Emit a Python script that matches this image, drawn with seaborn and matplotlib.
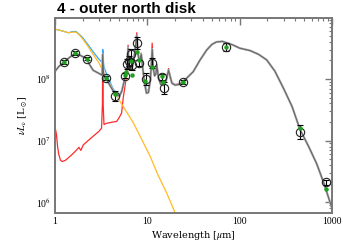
import numpy as np
import pandas as pd
import matplotlib
matplotlib.use("Agg")
import matplotlib.pyplot as plt
import seaborn as sns
from matplotlib.ticker import LogLocator, FixedLocator, NullFormatter

# ---------------- data ----------------
title = "4 - outer north disk"

# total model (grey)
tot_wl = [1.0, 1.1, 1.26, 1.5, 1.66, 1.9, 2.2, 2.4, 2.6, 3.0, 3.25, 3.3, 3.36, 3.6, 4.0, 4.5,
          5.0, 5.3, 5.6, 5.9, 6.1, 6.2, 6.35, 6.6, 6.9, 7.2, 7.5, 7.7, 7.9, 8.1, 8.3, 8.6,
          8.9, 9.3, 9.8, 10.3, 10.8, 11.1, 11.3, 11.6, 12.0, 12.4, 12.7, 13.2, 14.0, 15.0,
          16.0, 16.6, 17.0, 17.6, 18.5, 20.0, 22.0, 24.0, 27.0, 31.5, 37.0, 44.0, 50.0,
          56.0, 65.0, 75.0, 85.0, 100.0, 130.0, 160.0, 196.0, 240.0, 298.0, 370.0, 450.0,
          560.0, 684.0, 820.0, 1000.0]
tot_lg = [8.12, 8.20, 8.28, 8.37, 8.42, 8.38, 8.33, 8.22, 8.14, 8.09, 8.06, 8.40, 8.06, 8.00, 7.88, 7.75,
          7.72, 7.80, 7.95, 8.08, 8.25, 8.50, 8.17, 8.16, 8.20, 8.35, 8.55, 8.70, 8.45, 8.32, 8.30, 8.40,
          8.20, 7.95, 7.77, 7.78, 7.98, 8.25, 8.48, 8.18, 8.05, 8.08, 8.22, 8.02, 7.91, 7.90,
          7.97, 8.08, 8.14, 8.05, 7.93, 7.90, 7.91, 7.95, 8.02, 8.12, 8.30, 8.47, 8.56,
          8.60, 8.61, 8.58, 8.55, 8.50, 8.46, 8.40, 8.31, 8.13, 7.85, 7.55, 7.18,
          6.90, 6.62, 6.30, 5.90]

# stellar component (yellow)
star_wl = [1.0, 1.2, 1.4, 1.55, 1.7, 1.85, 2.0, 2.3, 2.6, 3.0, 3.5, 4.0, 4.47, 5.5, 7.05,
           8.5, 10.7, 13.0, 16.2, 20.0]
star_lg = [8.81, 8.78, 8.75, 8.76, 8.76, 8.71, 8.65, 8.52, 8.40, 8.26, 8.06, 7.90, 7.77, 7.55, 7.29,
           7.05, 6.75, 6.45, 6.15, 5.83]

# dust component (red)
dust_wl = [1.01, 1.04, 1.07, 1.1, 1.15, 1.2, 1.3, 1.5, 1.7, 1.82, 1.91, 2.03, 2.5, 3.0, 3.2,
           3.27, 3.3, 3.33, 3.4, 3.63, 4.2, 4.66, 5.0, 5.28, 5.5, 5.74, 5.9, 6.1, 6.2, 6.35,
           6.6, 6.9, 7.2, 7.5, 7.7, 7.9, 8.1, 8.3, 8.6, 8.9, 9.3, 9.8, 10.3, 10.8, 11.1, 11.3,
           11.6, 12.0, 12.4, 12.7, 13.2, 14.0, 15.0, 16.0, 16.6, 17.0, 17.6, 18.5, 20.0, 22.0,
           24.0, 27.0, 31.5, 37.0, 44.0, 50.0, 56.0, 65.0, 75.0, 85.0, 100.0, 130.0, 160.0,
           196.0, 240.0, 298.0, 370.0, 450.0, 560.0, 684.0, 820.0, 1000.0]
dust_lg = [7.20, 7.10, 6.90, 6.78, 6.68, 6.66, 6.68, 6.76, 6.84, 6.89, 6.84, 6.93, 7.05, 7.15, 7.20,
           7.60, 8.45, 7.60, 7.26, 7.28, 7.30, 7.31, 7.38, 7.45, 7.70, 7.88, 8.00, 8.18, 8.55, 8.14,
           8.14, 8.19, 8.35, 8.58, 8.75, 8.47, 8.32, 8.30, 8.42, 8.20, 7.94, 7.77, 7.79, 8.00, 8.30,
           8.58, 8.20, 8.06, 8.09, 8.24, 8.03, 7.92, 7.91, 7.98, 8.10, 8.17, 8.07, 7.94, 7.91,
           7.92, 7.95, 8.02, 8.12, 8.30, 8.47, 8.56, 8.60, 8.61, 8.58, 8.55, 8.50, 8.46, 8.40,
           8.31, 8.13, 7.85, 7.55, 7.18, 6.90, 6.62, 6.30, 5.90]

# alternative model (blue)
blue_wl = [1.0, 1.2, 1.4, 1.55, 1.7, 1.85, 2.0, 2.3, 2.6, 3.0, 3.2, 3.27, 3.3, 3.33, 3.4, 3.7,
           4.28, 4.9, 5.3, 5.6, 5.9, 6.1, 6.2, 6.35, 6.6, 6.9, 7.2, 7.5, 7.7, 7.9, 8.1, 8.3, 8.6,
           8.9, 9.3, 9.8, 10.3, 10.8, 11.1, 11.3, 11.6, 12.0, 12.4, 12.7, 13.2, 14.0, 15.0, 16.0,
           16.6, 17.0, 17.6, 18.5, 20.0]
blue_lg = [8.81, 8.78, 8.75, 8.77, 8.77, 8.72, 8.67, 8.55, 8.44, 8.32, 8.28, 8.35, 8.48, 8.30, 8.20, 8.04,
           7.84, 7.72, 7.82, 7.97, 8.10, 8.27, 8.52, 8.18, 8.17, 8.21, 8.36, 8.56, 8.71, 8.46, 8.33, 8.31, 8.41,
           8.21, 7.98, 7.82, 7.82, 8.00, 8.26, 8.49, 8.19, 8.06, 8.09, 8.23, 8.03, 7.92, 7.91, 7.98,
           8.09, 8.15, 8.06, 7.94, 7.91]

# observations (open circles)
obs_wl = [1.26, 1.66, 2.2, 3.6, 4.5, 5.8, 6.0, 6.4, 6.6, 6.9, 7.7, 8.1, 9.6, 11.3, 14.5, 15.2,
          24.2, 72.0, 450.0, 850.0]
obs_lg = [8.28, 8.42, 8.33, 8.02, 7.73, 8.05, 8.24, 8.29, 8.41, 8.22, 8.58, 8.26, 8.00, 8.26, 8.03, 7.85,
          7.95, 8.52, 7.14, 6.32]
obs_err = [0.03, 0.03, 0.03, 0.03, 0.08, 0.04, 0.08, 0.08, 0.08, 0.08, 0.10, 0.05, 0.09, 0.08, 0.05, 0.10,
           0.03, 0.07, 0.12, 0.04]

# model photometry (green dots)
mod_wl = [1.26, 1.66, 2.2, 3.6, 4.5, 5.8, 5.9, 6.65, 6.9, 7.67, 8.06, 9.5, 11.3, 14.5, 14.8, 24.2,
          72.0, 450.0, 850.0]
mod_lg = [8.28, 8.42, 8.33, 8.02, 7.76, 8.06, 8.12, 8.285, 8.06, 8.44, 8.31, 7.96, 8.20, 8.04, 7.95, 7.95,
          8.52, 7.20, 6.22]

# ---------------- figure ----------------
sns.set_theme(style="white")
plt.rcParams["font.family"] = ["Liberation Serif", "DejaVu Serif"]
plt.rcParams["mathtext.fontset"] = "stix"
plt.rcParams["text.color"] = "black"
plt.rcParams["axes.labelcolor"] = "black"

fig = plt.figure(figsize=(3.43, 2.45), dpi=100)
ax = fig.add_axes([0.160, 0.131, 0.808, 0.796])

def df(wl, lg):
    return pd.DataFrame({"wl": wl, "L": 10 ** np.array(lg, dtype=float)})

sns.lineplot(data=df(dust_wl, dust_lg), x="wl", y="L", ax=ax, color="#ff2a2a", lw=0.9, sort=False)
sns.lineplot(data=df(blue_wl, blue_lg), x="wl", y="L", ax=ax, color="#33aaff", lw=0.9, sort=False)
sns.lineplot(data=df(star_wl, star_lg), x="wl", y="L", ax=ax, color="#ffbb22", lw=0.9, sort=False)
sns.lineplot(data=df(tot_wl, tot_lg), x="wl", y="L", ax=ax, color="#c4c4c4", lw=1.7, sort=False)
sns.lineplot(data=df(tot_wl, tot_lg), x="wl", y="L", ax=ax, color="#686868", lw=0.9, sort=False)

obs = df(obs_wl, obs_lg)
lo = obs["L"] - 10 ** (np.array(obs_lg) - np.array(obs_err))
hi = 10 ** (np.array(obs_lg) + np.array(obs_err)) - obs["L"]
ax.errorbar(obs["wl"], obs["L"], yerr=[lo, hi], fmt="none", ecolor="black", elinewidth=0.8,
            capsize=2.5, capthick=0.8, zorder=5)
sns.lineplot(data=obs, x="wl", y="L", ax=ax, marker="o", linestyle="", markersize=6,
             markerfacecolor="none", markeredgecolor="#222222", markeredgewidth=0.8,
             sort=False, zorder=6)
sns.lineplot(data=df(mod_wl, mod_lg), x="wl", y="L", ax=ax, marker="o", linestyle="",
             markersize=3.2, markerfacecolor="#1fa01f", markeredgecolor="none",
             sort=False, zorder=7)

ax.set_xscale("log")
ax.set_yscale("log")
ax.set_xlim(1, 1000)
ax.set_ylim(6.7e5, 9.8e8)

ax.xaxis.set_major_locator(FixedLocator([1, 10, 100, 1000]))
ax.set_xticklabels(["1", "10", "100", "1000"])
ax.xaxis.set_minor_locator(LogLocator(base=10, subs=np.arange(2, 10)))
ax.xaxis.set_minor_formatter(NullFormatter())
ax.yaxis.set_major_locator(FixedLocator([1e6, 1e7, 1e8]))
ax.set_yticklabels([r"10$^6$", r"10$^7$", r"10$^8$"])
ax.yaxis.set_minor_locator(LogLocator(base=10, subs=np.arange(2, 10)))
ax.yaxis.set_minor_formatter(NullFormatter())

ax.tick_params(which="both", direction="in", top=True, right=True, colors="#777777",
               labelcolor="black", labelsize=7, pad=3)
ax.tick_params(which="major", length=5, width=1.0)
ax.tick_params(which="minor", length=2.5, width=0.8)
for s in ax.spines.values():
    s.set_color("#777777")
    s.set_linewidth(1.4)

ax.set_xlabel(r"Wavelength [$\mu$m]", fontsize=7, family="DejaVu Serif", labelpad=2, color="black")
ax.set_ylabel(r"$\nu L_\nu$ [L$_\odot$]", fontsize=7, family="DejaVu Serif", labelpad=4, color="black")

fig.text(0.165, 0.965, title, fontsize=11, fontweight="bold", family="Liberation Sans",
         ha="left", va="center", color="black")

fig.savefig("out.png", dpi=100)
